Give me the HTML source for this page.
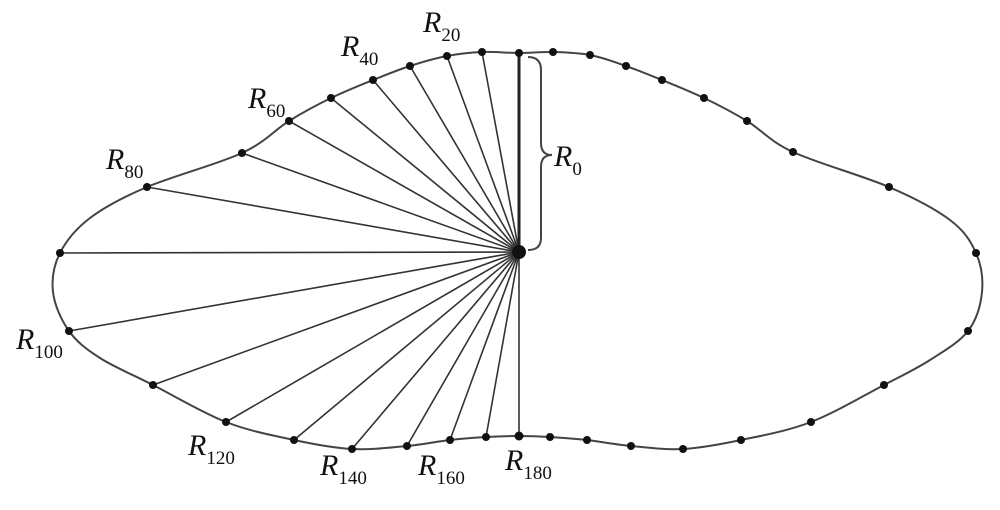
<!DOCTYPE html>
<html><head><style>
html,body{margin:0;padding:0;background:#fff;width:1000px;height:510px;overflow:hidden}
text{font-family:"Liberation Serif",serif;fill:#111}
</style></head><body>
<svg width="1000" height="510" viewBox="0 0 1000 510" xmlns="http://www.w3.org/2000/svg">
<path id="outline" fill="none" stroke="#444" stroke-width="2" stroke-linejoin="round" d=""/>
<g stroke="#333" stroke-width="1.6">
<line x1="519" y1="252" x2="482" y2="52"/><line x1="519" y1="252" x2="447" y2="56"/><line x1="519" y1="252" x2="410" y2="66"/><line x1="519" y1="252" x2="373" y2="80"/><line x1="519" y1="252" x2="331" y2="98"/><line x1="519" y1="252" x2="289" y2="121"/><line x1="519" y1="252" x2="242" y2="153"/><line x1="519" y1="252" x2="147" y2="187"/><line x1="519" y1="252" x2="60" y2="253"/><line x1="519" y1="252" x2="69" y2="331"/><line x1="519" y1="252" x2="153" y2="385"/><line x1="519" y1="252" x2="226" y2="422"/><line x1="519" y1="252" x2="294" y2="440"/><line x1="519" y1="252" x2="352" y2="449"/><line x1="519" y1="252" x2="407" y2="446"/><line x1="519" y1="252" x2="450" y2="440"/><line x1="519" y1="252" x2="486" y2="437"/><line x1="519" y1="252" x2="519" y2="436"/>
</g>
<line x1="519" y1="252" x2="519" y2="53" stroke="#222" stroke-width="3"/>
<path d="M528,57 Q541,57 541,70 L541,143 Q541,155 552,155 Q541,155 541,167 L541,238 Q541,250 528,250" fill="none" stroke="#444" stroke-width="2"/>
<g fill="#111">
<circle cx="519" cy="252" r="7"/>
<circle cx="519" cy="53" r="4"/><circle cx="553" cy="52" r="4"/><circle cx="590" cy="55" r="4"/><circle cx="626" cy="66" r="4"/><circle cx="662" cy="80" r="4"/><circle cx="704" cy="98" r="4"/><circle cx="747" cy="121" r="4"/><circle cx="793" cy="152" r="4"/><circle cx="889" cy="187" r="4"/><circle cx="976" cy="253" r="4"/><circle cx="968" cy="331" r="4"/><circle cx="884" cy="385" r="4"/><circle cx="811" cy="422" r="4"/><circle cx="741" cy="440" r="4"/><circle cx="683" cy="449" r="4"/><circle cx="631" cy="446" r="4"/><circle cx="587" cy="440" r="4"/><circle cx="550" cy="437" r="4"/><circle cx="519" cy="436" r="4.5"/><circle cx="486" cy="437" r="4"/><circle cx="450" cy="440" r="4"/><circle cx="407" cy="446" r="4"/><circle cx="352" cy="449" r="4"/><circle cx="294" cy="440" r="4"/><circle cx="226" cy="422" r="4"/><circle cx="153" cy="385" r="4"/><circle cx="69" cy="331" r="4"/><circle cx="60" cy="253" r="4"/><circle cx="147" cy="187" r="4"/><circle cx="242" cy="153" r="4"/><circle cx="289" cy="121" r="4"/><circle cx="331" cy="98" r="4"/><circle cx="373" cy="80" r="4"/><circle cx="410" cy="66" r="4"/><circle cx="447" cy="56" r="4"/><circle cx="482" cy="52" r="4"/>
</g>
<g font-size="30">
<text x="423" y="32"><tspan font-style="italic">R</tspan><tspan font-size="19" dy="9">20</tspan></text>
<text x="341" y="56"><tspan font-style="italic">R</tspan><tspan font-size="19" dy="9">40</tspan></text>
<text x="248" y="108"><tspan font-style="italic">R</tspan><tspan font-size="19" dy="9">60</tspan></text>
<text x="106" y="169"><tspan font-style="italic">R</tspan><tspan font-size="19" dy="9">80</tspan></text>
<text x="16" y="349"><tspan font-style="italic">R</tspan><tspan font-size="19" dy="9">100</tspan></text>
<text x="188" y="455"><tspan font-style="italic">R</tspan><tspan font-size="19" dy="9">120</tspan></text>
<text x="320" y="475"><tspan font-style="italic">R</tspan><tspan font-size="19" dy="9">140</tspan></text>
<text x="418" y="475"><tspan font-style="italic">R</tspan><tspan font-size="19" dy="9">160</tspan></text>
<text x="505" y="470"><tspan font-style="italic">R</tspan><tspan font-size="19" dy="9">180</tspan></text>
<text x="554" y="166"><tspan font-style="italic">R</tspan><tspan font-size="19" dy="9">0</tspan></text>
</g>
</svg>
<script>
(function(){
var p=[[519,53],[553,52],[590,55],[626,66],[662,80],[704,98],[747,121],[793,152],[889,187],[950,220],[976,253],[982,292],[968,331],[930,360],[884,385],[811,422],[741,440],[683,449],[631,446],[587,440],[550,437],[519,436],[486,437],[450,440],[407,446],[352,449],[294,440],[226,422],[153,385],[100,358],[69,331],[53,292],[60,253],[90,218],[147,187],[242,153],[289,121],[331,98],[373,80],[410,66],[447,56],[482,52]];
var n=p.length,d="M"+p[0][0]+","+p[0][1];
for(var i=0;i<n;i++){
var p0=p[(i-1+n)%n],p1=p[i],p2=p[(i+1)%n],p3=p[(i+2)%n];
var c1x=p1[0]+(p2[0]-p0[0])/6,c1y=p1[1]+(p2[1]-p0[1])/6;
var c2x=p2[0]-(p3[0]-p1[0])/6,c2y=p2[1]-(p3[1]-p1[1])/6;
d+=" C"+c1x.toFixed(1)+","+c1y.toFixed(1)+" "+c2x.toFixed(1)+","+c2y.toFixed(1)+" "+p2[0]+","+p2[1];
}
document.getElementById("outline").setAttribute("d",d+"Z");
})();
</script>
</body></html>
